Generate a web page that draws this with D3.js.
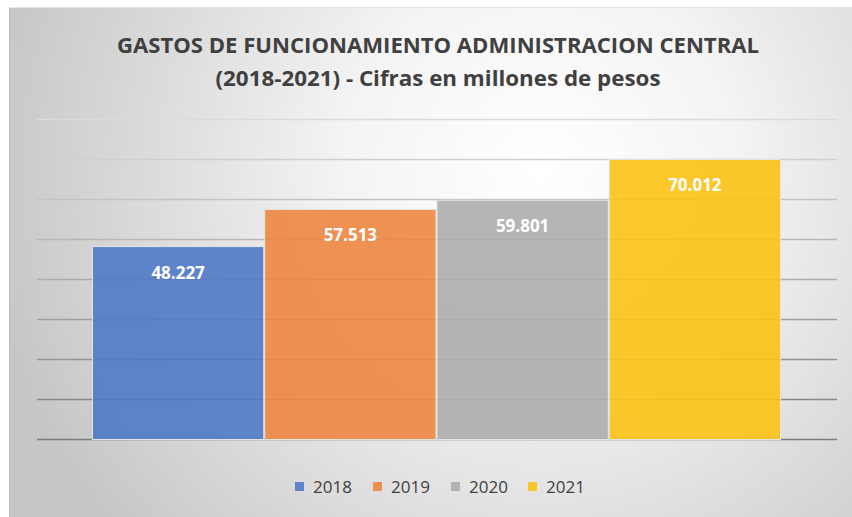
<!DOCTYPE html>
<html><head><meta charset="utf-8">
<script src="https://cdn.jsdelivr.net/npm/d3@7/dist/d3.min.js"></script>
<style>html,body{margin:0;padding:0;background:#fff;}svg{display:block;}</style>
</head><body>
<svg id="c" width="852" height="517"></svg>
<script>
const categories = ["2018", "2019", "2020", "2021"];
const values = [48227, 57513, 59801, 70012];
const colors = ["#4f7ac6", "#ee8641", "#adadad", "#fdc214"];
const yTicks = [0, 10000, 20000, 30000, 40000, 50000, 60000, 70000, 80000];
const titleLines = ["GASTOS DE FUNCIONAMIENTO ADMINISTRACION CENTRAL", "(2018-2021)  - Cifras en millones de pesos"];

const svg = d3.select("#c");
const defs = svg.append("defs");
const rg = defs.append("radialGradient").attr("id","bg")
  .attr("gradientUnits","userSpaceOnUse").attr("cx",540).attr("cy",170).attr("r",560);
rg.append("stop").attr("offset","0").attr("stop-color","#ffffff");
rg.append("stop").attr("offset","0.35").attr("stop-color","#f4f4f4");
rg.append("stop").attr("offset","1").attr("stop-color","#c6c6c6");
const lg = defs.append("linearGradient").attr("id","grid")
  .attr("gradientUnits","userSpaceOnUse").attr("x1",0).attr("y1",115).attr("x2",0).attr("y2",445);
lg.append("stop").attr("offset","0").attr("stop-color","#dcdcdc");
lg.append("stop").attr("offset","1").attr("stop-color","#7a7a7a");

svg.append("rect").attr("x",9).attr("y",7).attr("width",843).attr("height",510)
  .attr("fill","url(#bg)");
svg.append("line").attr("x1",9.5).attr("x2",9.5).attr("y1",7).attr("y2",517).attr("stroke","#bdbdbd");
svg.append("line").attr("x1",9).attr("x2",852).attr("y1",7.5).attr("y2",7.5).attr("stroke","#e6e6e6");

const x = d3.scaleBand().domain(categories).range([92, 781]).paddingInner(0).paddingOuter(0);
const y = d3.scaleLinear().domain([0, 80000]).range([439.5, 119.5]);

const gridG = svg.append("g");
gridG.selectAll("line").data(yTicks).join("line")
  .attr("x1",37).attr("x2",837)
  .attr("y1",d=>y(d)).attr("y2",d=>y(d))
  .attr("stroke","url(#grid)").attr("stroke-width",1.3);

const loc = d3.formatLocale({decimal:",", thousands:".", grouping:[3], currency:["$",""]});
const fmt = loc.format(",d");

svg.append("g").selectAll("rect").data(values).join("rect")
  .attr("x",(d,i)=>x(categories[i])+0.5)
  .attr("width",x.bandwidth()-1)
  .attr("y",d=>y(d))
  .attr("height",d=>y(0)-y(d))
  .attr("fill",(d,i)=>colors[i]).attr("fill-opacity",0.9)
  .attr("stroke","#e4e4e4").attr("stroke-width",1);

svg.append("g").selectAll("text").data(values).join("text")
  .attr("x",(d,i)=>x(categories[i])+x.bandwidth()/2)
  .attr("y",d=>y(d)+32)
  .attr("text-anchor","middle")
  .attr("font-family","'Open Sans', sans-serif").attr("font-weight","bold")
  .attr("font-size",17).attr("fill","#ffffff")
  .text(d=>fmt(d));

svg.append("g").selectAll("text").data(titleLines).join("text")
  .attr("x",438).attr("y",(d,i)=>53+i*33)
  .attr("text-anchor","middle")
  .attr("font-family","'Open Sans', sans-serif").attr("font-weight","bold")
  .attr("font-size",22).attr("fill","#404040")
  .attr("textLength",(d,i)=>i===0?642:445).attr("lengthAdjust","spacingAndGlyphs")
  .text(d=>d);

const legX = [295, 373, 451, 528];
const leg = svg.append("g").selectAll("g").data(categories).join("g")
  .attr("transform",(d,i)=>`translate(${legX[i]},482)`);
leg.append("rect").attr("width",9).attr("height",9).attr("fill",(d,i)=>colors[i]).attr("fill-opacity",0.9);
leg.append("text").attr("x",18).attr("y",11)
  .attr("font-family","'Open Sans', sans-serif").attr("font-size",17).attr("fill","#404040")
  .text(d=>d);
</script>
</body></html>
